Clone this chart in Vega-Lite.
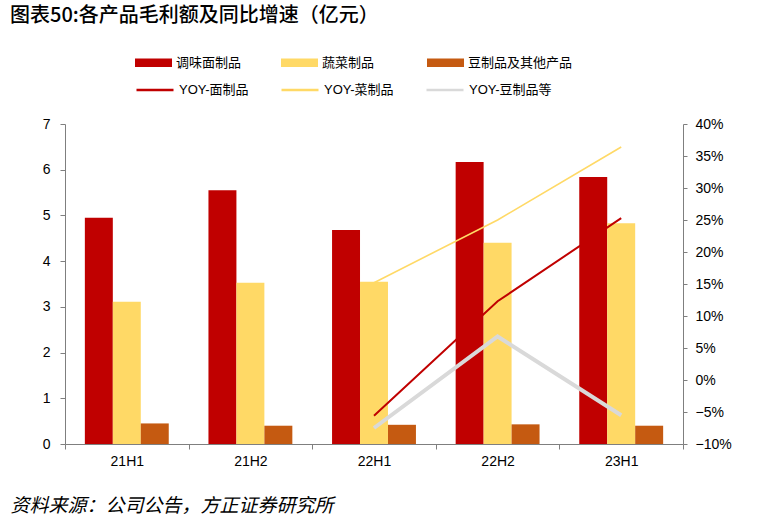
{
  "$schema": "https://vega.github.io/schema/vega-lite/v6.json",
  "autosize": {"type": "none"},
  "padding": {"left": 65, "top": 124, "right": 84, "bottom": 77},
  "width": 618,
  "height": 320,
  "background": "white",
  "title": {
    "text": "图表50:各产品毛利额及同比增速（亿元）",
    "anchor": "start",
    "frame": "group",
    "dx": -55,
    "offset": 18,
    "font": "Noto Sans CJK SC",
    "fontSize": 20,
    "fontWeight": 500,
    "color": "#000000"
  },
  "datasets": {
    "bars": [
      {"period": "21H1", "product": "调味面制品", "value": 4.95},
      {"period": "21H1", "product": "蔬菜制品", "value": 3.11},
      {"period": "21H1", "product": "豆制品及其他产品", "value": 0.45},
      {"period": "21H2", "product": "调味面制品", "value": 5.55},
      {"period": "21H2", "product": "蔬菜制品", "value": 3.53},
      {"period": "21H2", "product": "豆制品及其他产品", "value": 0.4},
      {"period": "22H1", "product": "调味面制品", "value": 4.68},
      {"period": "22H1", "product": "蔬菜制品", "value": 3.55},
      {"period": "22H1", "product": "豆制品及其他产品", "value": 0.42},
      {"period": "22H2", "product": "调味面制品", "value": 6.17},
      {"period": "22H2", "product": "蔬菜制品", "value": 4.4},
      {"period": "22H2", "product": "豆制品及其他产品", "value": 0.43},
      {"period": "23H1", "product": "调味面制品", "value": 5.84},
      {"period": "23H1", "product": "蔬菜制品", "value": 4.83},
      {"period": "23H1", "product": "豆制品及其他产品", "value": 0.4}
    ],
    "lines": [
      {"period": "22H1", "series": "YOY-面制品", "yoy": -0.056},
      {"period": "22H2", "series": "YOY-面制品", "yoy": 0.123},
      {"period": "23H1", "series": "YOY-面制品", "yoy": 0.253},
      {"period": "22H1", "series": "YOY-菜制品", "yoy": 0.152},
      {"period": "22H2", "series": "YOY-菜制品", "yoy": 0.25},
      {"period": "23H1", "series": "YOY-菜制品", "yoy": 0.364},
      {"period": "22H1", "series": "YOY-豆制品等", "yoy": -0.075},
      {"period": "22H2", "series": "YOY-豆制品等", "yoy": 0.068},
      {"period": "23H1", "series": "YOY-豆制品等", "yoy": -0.055}
    ]
  },
  "encoding": {
    "x": {
      "field": "period",
      "type": "nominal",
      "sort": ["21H1", "21H2", "22H1", "22H2", "23H1"],
      "scale": {"paddingInner": 0, "paddingOuter": 0},
      "axis": {
        "title": "资料来源：公司公告，方正证券研究所",
        "titleX": -55,
        "titleY": 61,
        "titleAlign": "left",
        "titleAnchor": null,
        "titleBaseline": "middle",
        "titleFont": "Noto Sans CJK SC",
        "titleFontSize": 19,
        "titleFontStyle": "italic",
        "titleFontWeight": "normal",
        "titleColor": "#000000",
        "labelAngle": 0,
        "labelFont": "Liberation Sans",
        "labelFontSize": 14,
        "labelColor": "#000000",
        "labelPadding": 5,
        "tickBand": "extent",
        "tickSize": 5,
        "tickColor": "#7f7f7f",
        "domainColor": "#7f7f7f",
        "grid": false
      }
    }
  },
  "layer": [
    {
      "data": {"name": "bars"},
      "mark": {"type": "bar"},
      "encoding": {
        "xOffset": {
          "field": "product",
          "type": "nominal",
          "sort": ["调味面制品", "蔬菜制品", "豆制品及其他产品"],
          "scale": {"paddingInner": 0, "paddingOuter": 0.71}
        },
        "y": {
          "field": "value",
          "type": "quantitative",
          "scale": {"domain": [0, 7], "nice": false},
          "axis": {
            "title": null,
            "values": [0, 1, 2, 3, 4, 5, 6, 7],
            "grid": false,
            "labelFont": "Liberation Sans",
            "labelFontSize": 14,
            "labelColor": "#000000",
            "labelPadding": 10,
            "tickSize": 5,
            "tickColor": "#7f7f7f",
            "domainColor": "#7f7f7f"
          }
        },
        "color": {
          "field": "product",
          "type": "nominal",
          "sort": ["调味面制品", "蔬菜制品", "豆制品及其他产品"],
          "scale": {
            "domain": ["调味面制品", "蔬菜制品", "豆制品及其他产品"],
            "range": ["#C00000", "#FFD966", "#C55A11"]
          },
          "legend": {
            "title": null,
            "orient": "none",
            "legendX": 70,
            "legendY": -80,
            "direction": "horizontal",
            "columns": 3,
            "gridAlign": "all",
            "columnPadding": 0,
            "padding": 0,
            "symbolType": "M-1,-0.23H1V0.23H-1Z",
            "symbolSize": 1369,
            "symbolStrokeWidth": 0,
            "labelFont": "Noto Sans CJK SC",
            "labelFontSize": 13,
            "labelColor": "#000000",
            "labelOffset": 4
          }
        }
      }
    },
    {
      "data": {"name": "lines"},
      "mark": {"type": "line"},
      "encoding": {
        "y": {
          "field": "yoy",
          "type": "quantitative",
          "scale": {"domain": [-0.1, 0.4], "nice": false},
          "axis": {
            "title": null,
            "orient": "right",
            "format": ".0%",
            "values": [-0.1, -0.05, 0, 0.05, 0.1, 0.15, 0.2, 0.25, 0.3, 0.35, 0.4],
            "grid": false,
            "labelFont": "Liberation Sans",
            "labelFontSize": 14,
            "labelColor": "#000000",
            "labelPadding": 8,
            "tickSize": 4,
            "tickColor": "#7f7f7f",
            "domainColor": "#7f7f7f"
          }
        },
        "color": {
          "field": "series",
          "type": "nominal",
          "sort": ["YOY-面制品", "YOY-菜制品", "YOY-豆制品等"],
          "scale": {
            "domain": ["YOY-面制品", "YOY-菜制品", "YOY-豆制品等"],
            "range": ["#C00000", "#FFD966", "#D9D9D9"]
          },
          "legend": {
            "title": null,
            "orient": "none",
            "legendX": 70,
            "legendY": -54,
            "direction": "horizontal",
            "columns": 3,
            "gridAlign": "all",
            "columnPadding": 14,
            "padding": 0,
            "symbolType": "stroke",
            "symbolSize": 1369,
            "symbolStrokeWidth": 2.5,
            "labelFont": "Liberation Sans, Noto Sans CJK SC",
            "labelFontSize": 13,
            "labelColor": "#000000",
            "labelOffset": 4
          }
        },
        "strokeWidth": {
          "condition": [
            {"test": "datum.series === 'YOY-豆制品等'", "value": 4},
            {"test": "datum.series === 'YOY-菜制品'", "value": 1.6}
          ],
          "value": 2
        }
      }
    }
  ],
  "resolve": {"scale": {"y": "independent", "color": "independent"}},
  "config": {
    "view": {"stroke": null}
  }
}
